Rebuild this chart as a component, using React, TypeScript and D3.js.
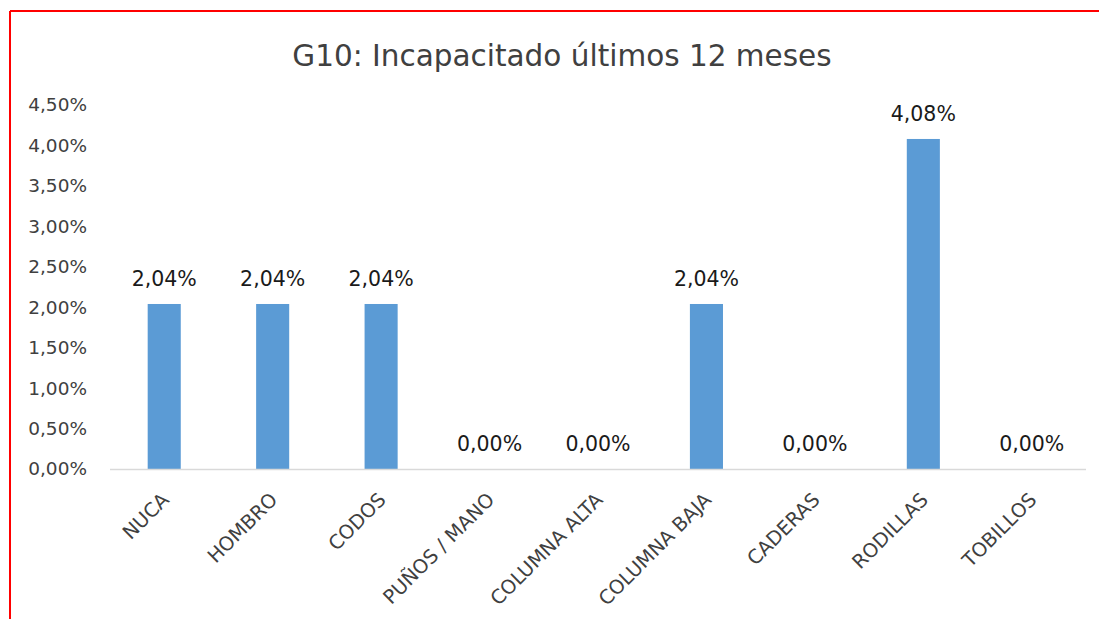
import React from "react";
import * as d3 from "d3";

const categories = ["NUCA", "HOMBRO", "CODOS", "PUÑOS / MANO", "COLUMNA ALTA", "COLUMNA BAJA", "CADERAS", "RODILLAS", "TOBILLOS"];
const values = [2.04, 2.04, 2.04, 0.0, 0.0, 2.04, 0.0, 4.08, 0.0];
const yTicks = [0, 0.5, 1, 1.5, 2, 2.5, 3, 3.5, 4, 4.5];
const title = "G10: Incapacitado últimos 12 meses";

const W = 1099;
const H = 619;
const FONT = "'DejaVu Sans', 'Liberation Sans', sans-serif";

const fmt = (v: number) => v.toFixed(2).replace(".", ",") + "%";

export default function App() {
  const x = d3.scaleBand<string>().domain(categories).range([110, 1086]).padding(0);
  const y = d3.scaleLinear().domain([0, 4.5]).range([469, 105]);
  const barW = x.bandwidth() * 0.305;

  return (
    <svg width={W} height={H} style={{ position: "absolute", left: 0, top: 0, background: "#fff" }}>
      <rect x={0} y={0} width={W} height={H} fill="#fff" />
      <line x1={10} y1={11} x2={W} y2={11} stroke="#ff0000" strokeWidth={2} />
      <line x1={10} y1={11} x2={10} y2={H} stroke="#ff0000" strokeWidth={2} />
      <text x={562} y={66} textAnchor="middle" fontFamily={FONT} fontSize={29.5} fill="#404040">
        {title}
      </text>
      {yTicks.map((t) => (
        <text key={t} x={87} y={y(t)} dy="0.35em" textAnchor="end" fontFamily={FONT} fontSize={18.5} fill="#404040">
          {fmt(t)}
        </text>
      ))}
      {categories.map((c, i) => (
        <rect key={c} x={(x(c) as number) + x.bandwidth() / 2 - barW / 2} y={y(values[i])} width={barW} height={y(0) - y(values[i])} fill="#5B9BD5" />
      ))}
      <line x1={110} x2={1086} y1={y(0) + 0.5} y2={y(0) + 0.5} stroke="#d9d9d9" strokeWidth={1.5} />
      {categories.map((c, i) => (
        <text key={c} x={(x(c) as number) + x.bandwidth() / 2} y={y(values[i]) - 18} textAnchor="middle" fontFamily={FONT} fontSize={20.5} fill="#1a1a1a">
          {fmt(values[i])}
        </text>
      ))}
      {categories.map((c) => (
        <text
          key={c}
          transform={`translate(${(x(c) as number) + x.bandwidth() / 2 + 6},${501}) rotate(-45)`}
          textAnchor="end"
          fontFamily={FONT}
          fontSize={19.5}
          fill="#404040"
        >
          {c}
        </text>
      ))}
    </svg>
  );
}
